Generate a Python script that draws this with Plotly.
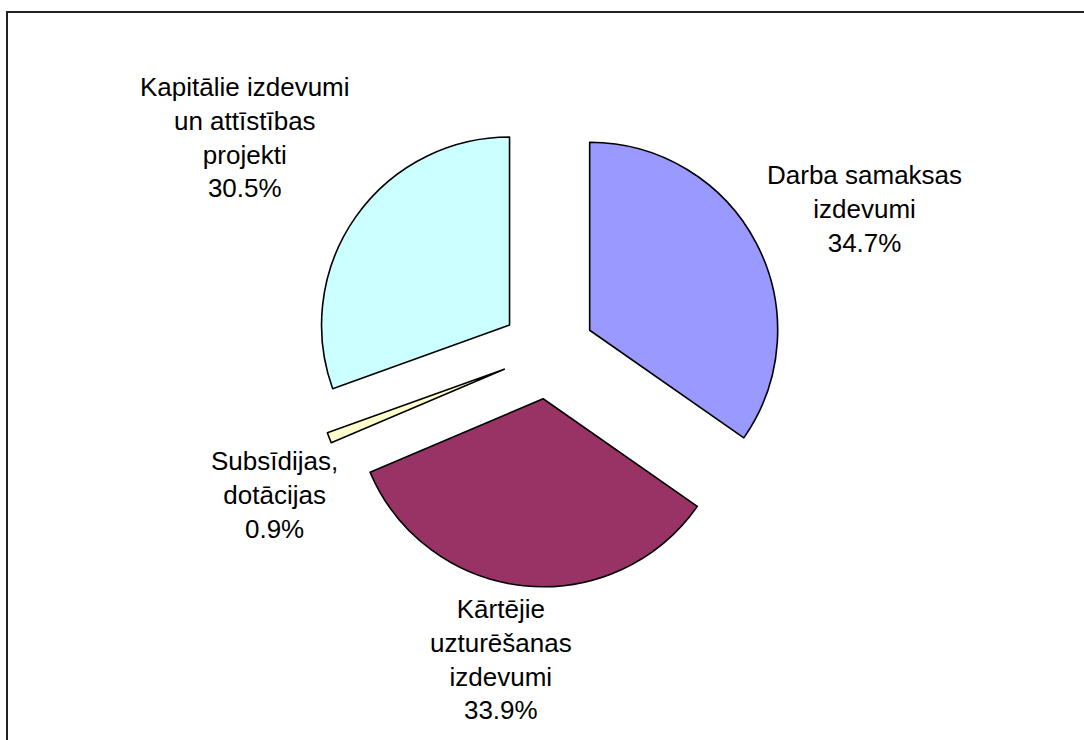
import plotly.graph_objects as go

# Data (clockwise from 12 o'clock)
categories = [
    "Darba samaksas izdevumi",
    "Kārtējie uzturēšanas izdevumi",
    "Subsīdijas, dotācijas",
    "Kapitālie izdevumi un attīstības projekti",
]
label_lines = [
    ["Darba samaksas", "izdevumi"],
    ["Kārtējie", "uzturēšanas", "izdevumi"],
    ["Subsīdijas,", "dotācijas"],
    ["Kapitālie izdevumi", "un attīstības", "projekti"],
]
values = [34.7, 33.9, 0.9, 30.5]
colors = ["#9999FF", "#993366", "#FFFFCC", "#CCFFFF"]

W, H = 1084, 740
cx, cy, r, pull = 548, 352, 188, 0.25
half = r * (1 + pull)

fig = go.Figure(go.Pie(
    labels=categories,
    values=values,
    sort=False,
    direction="clockwise",
    rotation=0,
    pull=[pull] * len(values),
    marker=dict(colors=colors, line=dict(color="black", width=1.6)),
    textinfo="none",
    hoverinfo="label+percent",
    showlegend=False,
    domain=dict(x=[(cx - half) / W, (cx + half) / W],
                y=[1 - (cy + half) / H, 1 - (cy - half) / H]),
))

# label block centres (pixels)
label_pos = [(864, 209), (501, 659), (274, 495), (245, 137)]
annotations = []
for lines, v, (px, py) in zip(label_lines, values, label_pos):
    annotations.append(dict(
        x=px / W, y=1 - py / H, xref="paper", yref="paper",
        text="<br>".join(lines + [f"{v:.1f}%"]),
        showarrow=False, xanchor="center", yanchor="middle", align="center",
        font=dict(family="Liberation Sans, Arial, sans-serif", size=26, color="black"),
    ))

fig.update_layout(
    width=W, height=H,
    margin=dict(l=0, r=0, t=0, b=0),
    paper_bgcolor="white", plot_bgcolor="white",
    annotations=annotations,
    shapes=[dict(type="rect", xref="paper", yref="paper",
                 x0=7 / W, x1=1.02, y0=-0.02, y1=1 - 12 / H,
                 line=dict(color="#222222", width=2))],
)

fig.write_html(
    "out.html",
    config={"displayModeBar": False},
    post_script="document.body.style.margin='0';document.body.style.overflow='hidden';",
)
